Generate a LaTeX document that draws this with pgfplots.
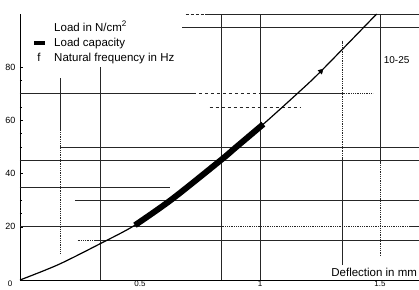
\documentclass[border=0pt]{standalone}
\usepackage{fontspec}
\setmainfont{Liberation Sans}
\usepackage{pgfplots}
\pgfplotsset{compat=1.18}
\begin{document}
\begin{tikzpicture}
\useasboundingbox (0,0) rectangle (419pt,289pt);
\begin{axis}[
  at={(20pt,9pt)}, anchor=south west,
  scale only axis, width=399pt, height=266pt,
  xmin=0, xmax=1.6625, ymin=0, ymax=100,
  axis x line*=bottom, axis y line*=left,
  axis line style={line width=0.9pt, black},
  xtick={0.5,1,1.5}, xticklabels={0.5,1,1.5},
  ytick={20,40,60,80},
  minor y tick num=3,
  tick align=inside,
  major tick length=3pt, minor tick length=1.5pt,
  tick style={black, line width=0.6pt},
  xtick style={draw=none},
  /pgf/number format/assume math mode=true,
  ticklabel style={font=\fontsize{9}{10}\selectfont},
  yticklabel style={xshift=-1pt},
  xticklabel style={inner sep=0.5pt, font=\fontsize{8}{8}\selectfont},
  clip=false,
  legend cell align=left,
  legend style={draw=none, fill=none, inner sep=0pt,
    at={(0.0301,0.972)}, anchor=north west,
    font=\fontsize{11.5}{13}\selectfont,
    column sep=6pt, row sep=2pt,
    nodes={inner sep=1pt, text height=8.5pt, text depth=2.5pt}},
]
% grid lines
\pgfplotsset{gl/.style={black!85, line width=0.8pt, forget plot}}
\addplot[gl] coordinates {(0.77,100) (1.6625,100)};
\addplot[gl, densely dashed] coordinates {(0.69,100) (0.77,100)};
\addplot[gl] coordinates {(0.675,95) (1.6625,95)};
\addplot[gl] coordinates {(0,70) (0.72,70)};
\addplot[gl, dashed] coordinates {(0.72,70) (1.0,70)};
\addplot[gl] coordinates {(1.0,70) (1.35,70)};
\addplot[gl, densely dotted] coordinates {(1.35,70) (1.47,70)};
\addplot[gl, dashed] coordinates {(0.79,65) (1.17,65)};
\addplot[gl] coordinates {(0.167,50) (1.6625,50)};
\addplot[gl] coordinates {(0,45) (1.6625,45)};
\addplot[gl] coordinates {(0,35) (0.625,35)};
\addplot[gl] coordinates {(0.229,30) (1.6625,30)};
\addplot[gl] coordinates {(0,20) (0.84,20)};
\addplot[gl, densely dotted] coordinates {(0.84,20) (1.625,20)};
\addplot[gl] coordinates {(1.625,20) (1.6625,20)};
\addplot[gl, densely dotted] coordinates {(0.24,15) (0.31,15)};
\addplot[gl] coordinates {(0.31,15) (1.6625,15)};
% vertical lines
\addplot[gl] coordinates {(0.1667,56) (0.1667,76)};
\addplot[gl, densely dotted] coordinates {(0.1667,10) (0.1667,56)};
\addplot[gl] coordinates {(0.3333,0) (0.3333,80)};
\addplot[gl] coordinates {(0.84,0) (0.84,100)};
\addplot[gl] coordinates {(1.0,0) (1.0,100)};
\addplot[gl] coordinates {(1.345,5.6) (1.345,46)};
\addplot[gl, densely dotted] coordinates {(1.345,46) (1.345,90)};
\addplot[gl] coordinates {(1.5,44) (1.5,100)};
\addplot[gl, densely dotted] coordinates {(1.5,9) (1.5,44)};
% curve
\addplot[black, line width=1.2pt, smooth, forget plot] coordinates {
(0,0) (0.16,5.8) (0.333,13.6) (0.479,20.6) (0.632,30.3) (0.84,45.3)
(0.896,49.6) (1.014,58.6) (1.153,69.9) (1.254,78.5) (1.486,100)};
% mark on curve
\addplot[only marks, mark=triangle*, mark size=3pt, black,
  mark options={rotate=-45}, forget plot] coordinates {(1.254,78.5)};
% legend
\addlegendimage{empty legend}
\addlegendentry{Load in N/cm\textsuperscript{2}}
\addplot[black, line width=6pt, smooth,
  legend image code/.code={\draw[black, line width=4pt] (0pt,0pt) -- (11pt,0pt);}]
  coordinates {(0.479,20.6) (0.632,30.3) (0.84,45.3) (0.896,49.6) (1.014,58.6)};
\addlegendentry{Load capacity}
\addlegendimage{legend image code/.code={\node[inner sep=0pt, anchor=west] at (3pt,0pt) {f};}}
\addlegendentry{Natural frequency in Hz}
% texts
\node[font=\fontsize{8}{8}\selectfont, inner sep=0pt] at (axis cs:-0.0417,-1.4) {0};
\node[anchor=east, font=\fontsize{11.5}{13}\selectfont, inner sep=0pt] at (axis cs:1.655,3.0) {Deflection in mm};
\node[anchor=west, font=\fontsize{10}{12}\selectfont, inner sep=0pt] at (axis cs:1.515,82.7) {10-25};
\end{axis}
\end{tikzpicture}
\end{document}
